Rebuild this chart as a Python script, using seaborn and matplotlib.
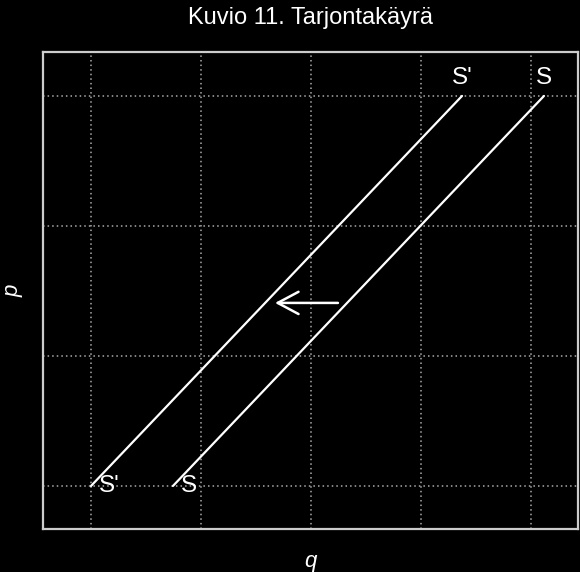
import seaborn as sns
import pandas as pd
import matplotlib.pyplot as plt

# supply curves (original S and shifted S'), grid units
s_q = [1.745, 5.118]
s_p = [1.0, 4.0]
s2_q = [1.0, 4.373]
s2_p = [1.0, 4.0]

grid_q = [1, 2, 3, 4, 5]
grid_p = [1, 2, 3, 4]

arrow_tail = (3.245, 2.408)
arrow_tip = (2.673, 2.408)

sns.set_style('dark', {'axes.facecolor': 'black', 'figure.facecolor': 'black'})
plt.rcParams['font.family'] = ['Liberation Sans', 'DejaVu Sans']

df = pd.concat([
    pd.DataFrame({'q': s_q, 'p': s_p, 'curve': 'S'}),
    pd.DataFrame({'q': s2_q, 'p': s2_p, 'curve': "S'"}),
])

fig = plt.figure(figsize=(5.8, 5.72), dpi=100)
ax = fig.add_axes([43 / 580, 43 / 572, 535 / 580, 477 / 572])
ax.set_facecolor('black')

sns.lineplot(data=df, x='q', y='p', units='curve', estimator=None,
             color='white', linewidth=1.6, sort=False, ax=ax, legend=False)

ax.set_xlim(0.5636, 5.4273)
ax.set_ylim(0.669, 4.338)
ax.set_xticks(grid_q)
ax.set_yticks(grid_p)
ax.tick_params(length=0, labelbottom=False, labelleft=False)
ax.grid(True, color='#aaaaaa', linestyle=(0, (1, 2)), linewidth=1.1)

for side in ax.spines.values():
    side.set_visible(True)
    side.set_color('#cccccc')
    side.set_linewidth(1.6)

# labels at the ends of the curves
lab = dict(color='white', fontsize=17.5, textcoords='offset points')
ax.annotate("S'", (s2_q[0], s2_p[0]), xytext=(6, 0), ha='left', va='center', **lab)
ax.annotate('S', (s_q[0], s_p[0]), xytext=(6, 0), ha='left', va='center', **lab)
ax.annotate("S'", (s2_q[1], s2_p[1]), xytext=(0, 13), ha='center', va='center', **lab)
ax.annotate('S', (s_q[1], s_p[1]), xytext=(0, 13), ha='center', va='center', **lab)

ax.annotate('', xy=arrow_tip, xytext=arrow_tail,
            arrowprops=dict(arrowstyle='->,head_length=1.5,head_width=0.8',
                            color='white', linewidth=1.8, mutation_scale=10,
                            shrinkA=0, shrinkB=0))

ax.set_xlabel('q', color='white', fontsize=16, style='italic', labelpad=16)
ax.set_ylabel('p', color='white', fontsize=16, style='italic', labelpad=14)
ax.set_title('Kuvio 11. Tarjontakäyrä', color='white', fontsize=17, pad=20)

fig.savefig('out.png', dpi=100, facecolor='black')
